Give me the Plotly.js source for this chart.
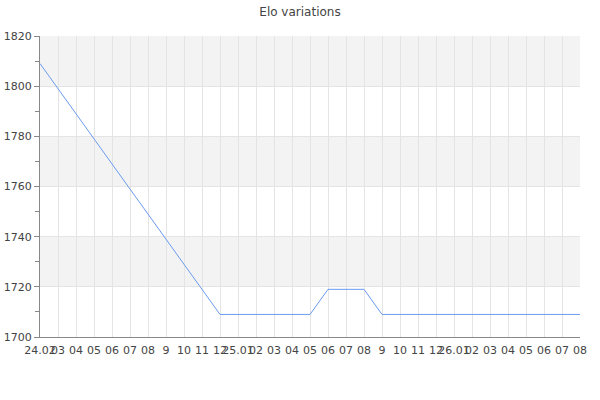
<!DOCTYPE html>
<html>
<head>
<meta charset="utf-8">
<script src="https://cdn.plot.ly/plotly-3.0.1.min.js"></script>
<style>
  body { margin: 0; background: #fff; }
  #chart { width: 600px; height: 400px; }
</style>
</head>
<body>
<div id="chart"></div>
<script>
// tick labels along the bottom, one per game day
var dayLabels = ["24.02", "03", "04", "05", "06", "07", "08", "9", "10", "11", "12",
    "25.01", "02", "03", "04", "05", "06", "07", "08", "9", "10", "11", "12",
    "26.01", "02", "03", "04", "05", "06", "07", "08"];

var eloValues = [1809, 1799, 1789, 1779, 1769, 1759, 1749, 1739, 1729, 1719, 1709,
    1709, 1709, 1709, 1709, 1709, 1719, 1719, 1719, 1709, 1709, 1709, 1709,
    1709, 1709, 1709, 1709, 1709, 1709, 1709, 1709];

var yTicks = [1700, 1720, 1740, 1760, 1780, 1800, 1820];

var xIdx = dayLabels.map(function (d, i) { return i; });

var trace = {
    x: xIdx,
    y: eloValues,
    type: 'scatter',
    mode: 'lines',
    line: {color: '#6a9bf0', width: 1},
    hoverinfo: 'y'
};

// grey bands every other 20 pts
var bands = [];
for (var i = 0; i < yTicks.length - 1; i++) {
    if (i % 2 === 1) {
        bands.push({
            type: 'rect', xref: 'paper', yref: 'y', layer: 'below',
            x0: 0, x1: 1, y0: yTicks[i], y1: yTicks[i + 1],
            fillcolor: '#f3f3f3', line: {width: 0}
        });
    }
}

var layout = {
    width: 600,
    height: 400,
    margin: {l: 40, r: 20, t: 36, b: 63},
    paper_bgcolor: '#fff',
    plot_bgcolor: 'rgba(0,0,0,0)',
    font: {family: 'DejaVu Sans', size: 11, color: '#444'},
    title: {
        text: 'Elo variations',
        font: {family: 'DejaVu Sans', size: 12, color: '#444'},
        x: 0.5, xanchor: 'center', y: 0.98, yanchor: 'top'
    },
    showlegend: false,
    shapes: bands,
    xaxis: {
        range: [0, dayLabels.length - 1],
        tickmode: 'array',
        tickvals: xIdx,
        ticktext: dayLabels,
        tickangle: 0,
        ticks: '',
        ticklabelstandoff: 3,
        showgrid: true,
        gridcolor: '#e4e4e4',
        gridwidth: 1,
        showline: true,
        linecolor: '#888',
        linewidth: 1,
        zeroline: false,
        fixedrange: true,
        tickfont: {size: 11, color: '#444'}
    },
    yaxis: {
        range: [1700, 1820],
        tickmode: 'array',
        tickvals: yTicks,
        ticks: 'outside',
        ticklen: 5,
        tickcolor: '#888',
        minor: {tickvals: [1710, 1730, 1750, 1770, 1790, 1810], ticks: 'outside', ticklen: 4, tickcolor: '#888', showgrid: false},
        showgrid: true,
        gridcolor: '#e4e4e4',
        showline: true,
        linecolor: '#888',
        linewidth: 1,
        zeroline: false,
        fixedrange: true,
        tickfont: {size: 11, color: '#444'}
    }
};

Plotly.newPlot('chart', [trace], layout, {displayModeBar: false, staticPlot: true});
</script>
</body>
</html>
